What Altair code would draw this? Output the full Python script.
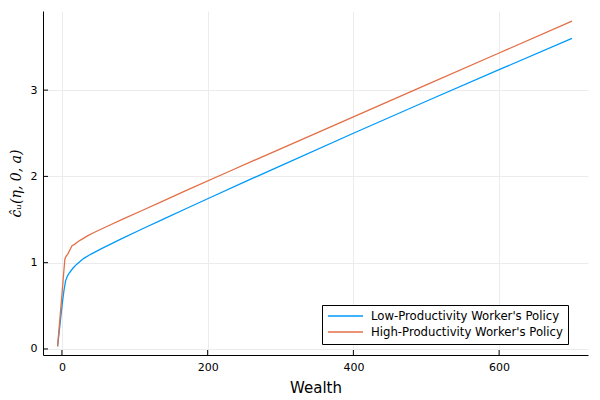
import altair as alt
import pandas as pd

low_x = [-6, -4, -2, 0, 1, 2, 3, 5, 7.5, 10, 15, 20, 30, 40, 55, 80, 110, 140, 170, 200, 250, 300, 400, 500, 600, 700]
low_y = [0.03, 0.18, 0.34, 0.49, 0.56, 0.63, 0.69, 0.79, 0.845, 0.88, 0.935, 0.98, 1.05, 1.10, 1.165, 1.27, 1.39, 1.508, 1.625, 1.741, 1.933, 2.123, 2.50, 2.871, 3.237, 3.60]

high_x = [-6, -4, -2, 0, 2, 4, 6, 8, 11, 14, 17, 20, 26, 35, 44, 63, 85, 110, 140, 170, 230, 300, 400, 500, 600, 700]
high_y = [0.03, 0.23, 0.43, 0.63, 0.84, 1.04, 1.08, 1.10, 1.15, 1.20, 1.21, 1.23, 1.265, 1.31, 1.35, 1.425, 1.51, 1.605, 1.72, 1.835, 2.06, 2.32, 2.69, 3.06, 3.43, 3.80]

series = ["Low-Productivity Worker's Policy", "High-Productivity Worker's Policy"]
colors = ["#009AFA", "#E36F47"]

x_ticks = [0, 200, 400, 600]
y_ticks = [0, 1, 2, 3]

df = pd.concat([
    pd.DataFrame({"a": low_x, "c": low_y, "s": series[0]}),
    pd.DataFrame({"a": high_x, "c": high_y, "s": series[1]}),
])

W, H = 545, 344
xs = alt.Scale(domain=[-26, 722], nice=False, zero=False)
ys = alt.Scale(domain=[-0.07, 3.917], nice=False, zero=False)

lines = alt.Chart(df).mark_line(strokeWidth=1.3, clip=True).encode(
    x=alt.X("a:Q", scale=xs, title="Wealth",
            axis=alt.Axis(values=x_ticks, format="d", ticks=False, labelPadding=6,
                          titlePadding=8, titleFontSize=15)),
    y=alt.Y("c:Q", scale=ys, title="ĉᵤ(η, 0, a)",
            axis=alt.Axis(values=y_ticks, format="d", ticks=False, labelPadding=6,
                          titlePadding=7, titleFont="DejaVu Serif", titleFontStyle="italic",
                          titleFontWeight="normal", titleFontSize=14)),
    color=alt.Color("s:N", scale=alt.Scale(domain=series, range=colors),
                    legend=alt.Legend(title=None, orient="none", legendX=279, legendY=294,
                                      symbolType="M-1,0L6,0", symbolSize=100, symbolStrokeWidth=1.5,
                                      labelFontSize=11.7, labelOffset=32, rowPadding=3,
                                      labelLimit=400,
                                      padding=5, strokeColor="black", fillColor="white",
                                      labelColor="black", labelFont="DejaVu Sans")),
)

xt = alt.Chart(pd.DataFrame({"t": x_ticks})).mark_rule(color="black", strokeWidth=1).encode(
    x=alt.X("t:Q", scale=xs), y=alt.value(H), y2=alt.value(H - 5))
yt = alt.Chart(pd.DataFrame({"t": y_ticks})).mark_rule(color="black", strokeWidth=1).encode(
    y=alt.Y("t:Q", scale=ys), x=alt.value(0), x2=alt.value(5))

chart = alt.layer(lines, xt, yt).properties(
    width=W, height=H,
    autosize=alt.AutoSizeParams(type="none"),
    padding={"left": 35, "top": 3, "right": 4, "bottom": 40},
).configure_view(stroke=None).configure_axis(
    domainColor="black", domainWidth=1, gridColor="#ececec", gridWidth=1,
    labelFontSize=11, labelColor="black", labelFont="DejaVu Sans",
    titleFont="DejaVu Sans", titleColor="black", titleFontWeight="normal",
)

chart.save("out.html", embed_options={"renderer": "svg", "actions": False})
